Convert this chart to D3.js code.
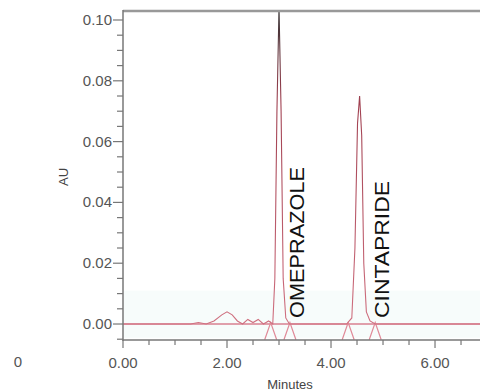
<!DOCTYPE html>
<html><head><meta charset="utf-8">
<script src="https://cdn.jsdelivr.net/npm/d3@7"></script>
<style>html,body{margin:0;padding:0;background:#fff}svg{display:block}</style>
</head><body>
<script>
// ---- data ----
const times = [0.00,1.30,1.45,1.60,1.75,1.90,2.00,2.10,2.20,2.30,2.40,2.50,2.60,2.70,2.80,2.88,2.92,2.96,3.00,3.04,3.08,3.13,3.20,4.30,4.40,4.46,4.51,4.55,4.59,4.63,4.68,4.75,4.85,6.90];
const absorb = [0.000,0.000,0.0005,0.000,0.001,0.003,0.004,0.003,0.001,0.000,0.0015,0.0005,0.0015,0.000,0.001,0.000,0.015,0.070,0.104,0.070,0.015,0.002,0.000,0.000,0.002,0.025,0.066,0.075,0.062,0.020,0.004,0.001,0.000,0.000];
const peakNames = ["OMEPRAZOLE","CINTAPRIDE"];
const peakTimes = [3.00,4.55];
const markerTimes = [2.84,3.21,4.33,4.85];
const yTickLabels = ["0.00","0.02","0.04","0.06","0.08","0.10"];
const yTicks = [0.00,0.02,0.04,0.06,0.08,0.10];
const xTickLabels = ["0.00","2.00","4.00","6.00"];
const xTicks = [0,2,4,6];

const W=480,H=392;
const svg=d3.select("body").append("svg").attr("width",W).attr("height",H);
const x=d3.scaleLinear().domain([0,6.865]).range([123,480]);
const y=d3.scaleLinear().domain([-0.00526,0.10296]).range([340,11]);
const font="Liberation Sans, Arial, sans-serif";

const defs=svg.append("defs");
defs.append("clipPath").attr("id","plot").append("rect").attr("x",123).attr("y",11).attr("width",357).attr("height",329);
const grad=defs.append("linearGradient").attr("id","tr").attr("gradientUnits","userSpaceOnUse")
  .attr("x1",0).attr("x2",0).attr("y1",y(0.104)).attr("y2",y(0));
grad.append("stop").attr("offset","0").attr("stop-color","#333");
grad.append("stop").attr("offset","0.3").attr("stop-color","#a04050");
grad.append("stop").attr("offset","1").attr("stop-color","#d07080");

// faint band near baseline
svg.append("rect").attr("x",124).attr("y",y(0.011)).attr("width",356).attr("height",y(-0.0045)-y(0.011)).attr("fill","#f7fcfb");

const g=svg.append("g").attr("clip-path","url(#plot)");
// integration baseline
g.append("line").attr("x1",x(0)).attr("x2",480).attr("y1",y(0)).attr("y2",y(0)).attr("stroke","#d88090").attr("stroke-width",1.5);
// markers
markerTimes.forEach(t=>{
  const cx=x(t),top=y(0.0005),bot=y(-0.0052);
  g.append("path").attr("d",`M${cx-6},${bot}L${cx},${top}L${cx+6},${bot}`).attr("fill","none").attr("stroke","#e08a98").attr("stroke-width",1.2);
});
// trace
const pts=times.map((t,i)=>[t,absorb[i]]);
g.append("path").datum(pts).attr("fill","none").attr("stroke","url(#tr)").attr("stroke-width",1.1)
  .attr("d",d3.line().x(d=>x(d[0])).y(d=>y(d[1])));

// peak labels
peakNames.forEach((n,i)=>{
  const px=x(peakTimes[i])+(i===0?25:29);
  svg.append("text").attr("transform",`translate(${px},${y(0)-6}) rotate(-90)`)
    .attr("font-family",font).attr("font-size",20).attr("fill","#111")
    .attr("textLength",i===0?151:137).attr("lengthAdjust","spacingAndGlyphs").text(n);
});

// axes frame
svg.append("line").attr("x1",123).attr("x2",480).attr("y1",11).attr("y2",11).attr("stroke","#999").attr("stroke-width",2.5);
svg.append("line").attr("x1",123).attr("x2",123).attr("y1",10).attr("y2",341).attr("stroke","#777").attr("stroke-width",1.5);
svg.append("line").attr("x1",123).attr("x2",480).attr("y1",340).attr("y2",340).attr("stroke","#777").attr("stroke-width",1.5);

// y ticks
d3.range(-0.005,0.1001,0.005).forEach(v=>{
  const major=yTicks.some(t=>Math.abs(t-v)<1e-6);
  svg.append("line").attr("x1",major?113:117).attr("x2",123).attr("y1",y(v)).attr("y2",y(v)).attr("stroke","#777").attr("stroke-width",1.2);
});
yTicks.forEach((v,i)=>svg.append("text").attr("x",112).attr("y",y(v)+5).attr("text-anchor","end")
  .attr("font-family",font).attr("font-size",15).attr("fill","#555").text(yTickLabels[i]));
// x ticks
d3.range(0,6.86,0.5).forEach(v=>{
  const major=xTicks.includes(v);
  svg.append("line").attr("x1",x(v)).attr("x2",x(v)).attr("y1",340).attr("y2",major?348:345).attr("stroke","#777").attr("stroke-width",1.2);
});
xTicks.forEach((v,i)=>svg.append("text").attr("x",x(v)).attr("y",368).attr("text-anchor","middle")
  .attr("font-family",font).attr("font-size",15).attr("fill","#555").text(xTickLabels[i]));
svg.append("text").attr("x",18).attr("y",367).attr("text-anchor","middle").attr("font-family",font).attr("font-size",15).attr("fill","#555").text("0");
svg.append("text").attr("x",290).attr("y",389).attr("text-anchor","middle").attr("font-family",font).attr("font-size",13).attr("fill","#444").text("Minutes");
svg.append("text").attr("transform","translate(68,177) rotate(-90)").attr("text-anchor","middle").attr("font-family",font).attr("font-size",13).attr("fill","#444").text("AU");
</script>
</body></html>
